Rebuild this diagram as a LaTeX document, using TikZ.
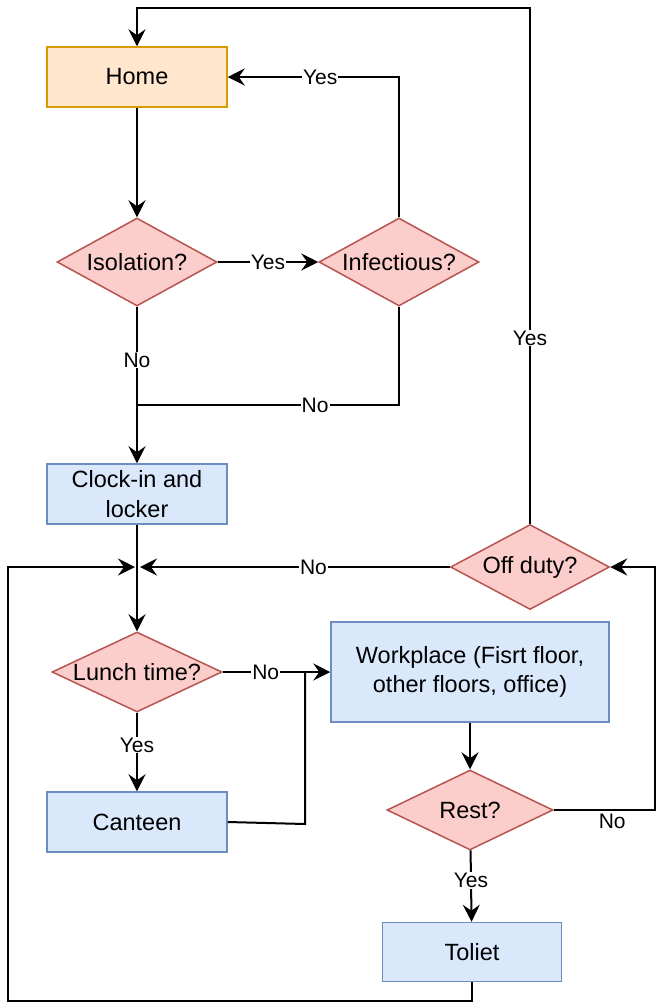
\documentclass[tikz,border=0pt]{standalone}
\usepackage{fontspec}
\setmainfont{Liberation Sans}
\usetikzlibrary{shapes.geometric,arrows.meta}
\definecolor{homefill}{HTML}{FFE6CC}
\definecolor{homedraw}{HTML}{D79B00}
\definecolor{bluefill}{HTML}{DAE8FC}
\definecolor{bluedraw}{HTML}{6C8EBF}
\definecolor{redfill}{HTML}{FCCECB}
\definecolor{reddraw}{HTML}{B85450}
\newcommand{\nodefont}{\fontsize{23.5}{29.5}\selectfont}
\newcommand{\labfont}{\fontsize{21}{24}\selectfont}
\begin{document}
\begin{tikzpicture}[x=1pt,y=-1pt,
  every label/.style={font=\nodefont},
  homebox/.style={draw=homedraw, fill=homefill, line width=1.5pt, minimum width=180pt, minimum height=60pt, inner sep=0pt, font=\nodefont, align=center},
  bluebox/.style={draw=bluedraw, fill=bluefill, line width=1.5pt, minimum width=180pt, minimum height=60pt, inner sep=0pt, font=\nodefont, align=center},
  dec/.style={diamond, draw=reddraw, fill=redfill, line width=1.5pt, inner sep=0pt},
  conn/.style={line width=2pt, black},
  arr/.style={conn, -{Stealth[length=17pt,width=17pt,inset=6pt]}},
  lab/.style={fill=white, inner sep=1pt, font=\labfont}
]
\useasboundingbox (0,0) rectangle (656,1005);

\node[homebox] (home) at (137,77) {Home};
\node[dec, minimum width=160pt, minimum height=88pt, label=center:Isolation?] (iso) at (137,262) {};
\node[dec, minimum width=160pt, minimum height=88pt, label=center:Infectious?] (inf) at (399,262) {};
\node[bluebox] (clock) at (137,494) {Clock-in and\\locker};
\node[dec, minimum width=159pt, minimum height=85pt, label=center:Off duty?] (off) at (530,567) {};
\node[dec, minimum width=170pt, minimum height=80pt, label=center:Lunch time?] (lunch) at (137,672) {};
\node[bluebox] (canteen) at (137,822) {Canteen};
\node[bluebox, minimum width=278pt, minimum height=100pt] (work) at (470,672) {Workplace (Fisrt floor,\\other floors, office)};
\node[dec, minimum width=166pt, minimum height=80pt, label=center:Rest?] (rest) at (470,810) {};
\node[bluebox, minimum width=179pt, minimum height=59pt] (toilet) at (472,952) {Toliet};

\coordinate (j1) at (137,405);
\coordinate (mL) at (135,567);
\coordinate (mR) at (140,567);
\coordinate (tr) at (530,8);
\coordinate (tl) at (137,8);
\coordinate (cj1) at (305,824);
\coordinate (cj2) at (305,672);
\coordinate (rr1) at (654.5,810);
\coordinate (rr2) at (654.5,567);
\coordinate (b1) at (472,1001);
\coordinate (b2) at (8,1001);
\coordinate (b3) at (8,567);

\draw[arr] (home) -- (iso);
\draw[arr] (iso) -- node[lab]{Yes} (inf);
\draw[arr] (inf.north) |- node[lab,pos=0.73]{Yes} (home.east);
\draw[arr] (iso) -- node[lab,pos=0.34]{No} (clock);
\draw[conn] (inf.south) |- node[lab,pos=0.66]{No} (j1);
\draw[arr] (clock) -- (lunch);
\draw[arr] (off.west) -- node[lab,pos=0.44]{No} (mR);
\draw[arr] (off.north) -- node[lab,pos=0.36]{Yes} (tr) -- (tl) -- (home.north);
\draw[arr] (lunch.east) -- node[lab,pos=0.4]{No} (work.west);
\draw[arr] (lunch) -- node[lab,pos=0.41]{Yes} (canteen);
\draw[conn] (canteen.east) -- (cj1) -- (cj2);
\draw[arr] (work) -- (rest);
\draw[arr] (rest.east) -- node[pos=0.58,below,font=\labfont,inner sep=3pt]{No} (rr1) -- (rr2) -- (off.east);
\draw[arr] (rest) -- node[lab,pos=0.42]{Yes} (toilet);
\draw[arr] (toilet.south) -- (b1) -- (b2) -- (b3) -- (mL);
\end{tikzpicture}
\end{document}
